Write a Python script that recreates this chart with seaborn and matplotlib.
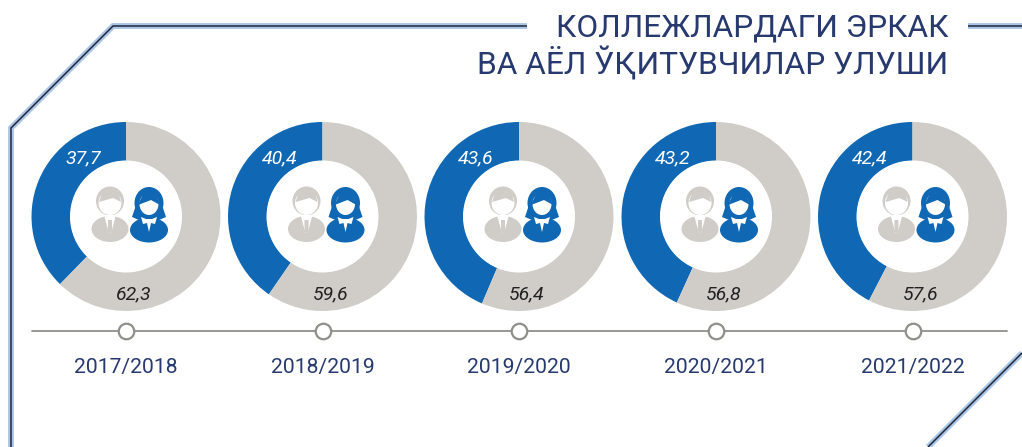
import matplotlib
matplotlib.use('Agg')
import matplotlib.pyplot as plt
from matplotlib.patches import Circle, Ellipse, Polygon
import pandas as pd
import seaborn as sns

years = ['2017/2018', '2018/2019', '2019/2020', '2020/2021', '2021/2022']
women = [37.7, 40.4, 43.6, 43.2, 42.4]
men = [62.3, 59.6, 56.4, 56.8, 57.6]
women_labels = ['37,7', '40,4', '43,6', '43,2', '42,4']
men_labels = ['62,3', '59,6', '56,4', '56,8', '57,6']
title_lines = ['КОЛЛЕЖЛАРДАГИ ЭРКАК', 'ВА АЁЛ ЎҚИТУВЧИЛАР УЛУШИ']

BLUE = '#1068b4'
GREY = '#d0cdc8'
NAVY = '#27396f'
LINE = '#8f8f8a'
W, H = 1022, 447
centers = [126, 322.5, 519, 716, 912.5]
CY = 216.5

sns.set_theme(style='white')
plt.rcParams['font.family'] = ['Roboto', 'DejaVu Sans']


def y_(py):
    return H - py


def poly(ax, pts, color, z):
    ax.add_patch(Polygon([(x, y_(v)) for x, v in pts], color=color, lw=0, zorder=z))


def ell(ax, x, v, w, h, color, z):
    ax.add_patch(Ellipse((x, y_(v)), w, h, color=color, lw=0, zorder=z))


def frame_line(ax, xs, ys):
    ax.plot(xs, [y_(v) for v in ys], color='#a9c5e6', lw=4.2, solid_joinstyle='miter', solid_capstyle='butt', zorder=1)
    ax.plot(xs, [y_(v) for v in ys], color='#22283a', lw=1.1, solid_joinstyle='miter', solid_capstyle='butt', zorder=2)


def draw_man(ax, cx):
    # body with white collar lines around the tie
    ell(ax, cx, 229, 37, 26, GREY, 4)
    poly(ax, [(cx - 6, 215), (cx + 6, 215), (cx + 1, 233), (cx - 1, 233)], 'white', 5)
    poly(ax, [(cx - 2, 220), (cx + 2, 220), (cx + 2, 231), (cx, 234), (cx - 2, 231)], GREY, 6)
    # head ring and hair
    ell(ax, cx, 201, 28, 29, GREY, 4)
    ell(ax, cx, 203, 23, 24, 'white', 5)
    poly(ax, [(cx - 11, 202), (cx - 7, 190), (cx + 8, 190), (cx + 11, 202), (cx + 3, 198)], GREY, 6)


def draw_woman(ax, cx):
    ell(ax, cx, 230, 38, 25, BLUE, 4)
    # hair falls down to the shoulders
    ell(ax, cx, 203, 29, 32, BLUE, 4)
    poly(ax, [(cx - 13, 205), (cx + 13, 205), (cx + 17, 217), (cx + 10, 220), (cx - 10, 220), (cx - 17, 217)], BLUE, 4)
    ell(ax, cx, 204, 19, 22, 'white', 5)
    poly(ax, [(cx - 11, 205), (cx - 5, 192), (cx + 6, 192), (cx + 11, 205), (cx + 2, 200)], BLUE, 6)
    poly(ax, [(cx - 8, 217), (cx - 3, 219), (cx + 3, 219), (cx + 8, 217), (cx + 6, 224), (cx + 2, 223), (cx, 232), (cx - 2, 223), (cx - 6, 224)], 'white', 5)


fig = plt.figure(figsize=(W / 100, H / 100), dpi=100, facecolor='white')
ax = fig.add_axes([0, 0, 1, 1])

for i, cx in enumerate(centers):
    ax.pie([women[i], men[i]], colors=[BLUE, GREY], startangle=90, counterclock=True,
           center=(cx, y_(CY)), radius=94.5, wedgeprops=dict(width=39, linewidth=0))
    ax.add_patch(Circle((cx, y_(CY)), 56, color='white', lw=0, zorder=3))
    draw_man(ax, cx - 16)
    draw_woman(ax, cx + 23)
    ax.text(cx - 43, y_(158), women_labels[i], color='white', style='italic', fontsize=14, ha='center', va='center', zorder=5)
    ax.text(cx + 8, y_(294), men_labels[i], color='#222222', style='italic', fontsize=14, ha='center', va='center', zorder=5)
    ax.text(cx, y_(368), years[i], color=NAVY, fontsize=15.25, ha='center', va='center')

timeline = pd.DataFrame({'x': [32, 1007], 'y': [y_(331), y_(331)]})
sns.lineplot(data=timeline, x='x', y='y', color=LINE, lw=1.3, ax=ax, zorder=3)
points = pd.DataFrame({'x': centers, 'y': [y_(331)] * len(centers)})
sns.scatterplot(data=points, x='x', y='y', s=125, color='white', edgecolor=LINE, linewidth=1.6, ax=ax, zorder=4)

frame_line(ax, [527, 113, 11, 11], [26, 26, 128, 447])
frame_line(ax, [968, 1022], [26, 26])
frame_line(ax, [1022, 928], [353, 447])

ax.text(948, y_(28), title_lines[0], color=NAVY, fontsize=22.85, ha='right', va='center')
ax.text(948, y_(64), title_lines[1], color=NAVY, fontsize=22.85, ha='right', va='center')

ax.set_xlim(0, W)
ax.set_ylim(0, H)
ax.set_aspect('auto')
ax.axis('off')
fig.savefig('out.png', dpi=100)
